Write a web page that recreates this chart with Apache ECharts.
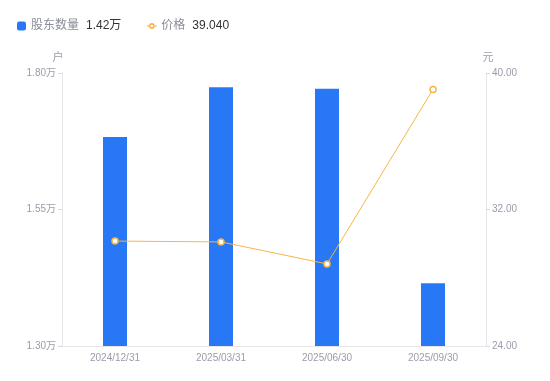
<!DOCTYPE html>
<html>
<head>
<meta charset="utf-8">
<script src="https://cdn.jsdelivr.net/npm/echarts@6/dist/echarts.min.js"></script>
<style>
  html, body { margin: 0; padding: 0; background: #fff; }
  #chart { width: 550px; height: 381px; }
</style>
</head>
<body>
<div id="chart"></div>
<script>
// 报告期
const dates = ['2024/12/31', '2025/03/31', '2025/06/30', '2025/09/30']
// 股东数量（户）
const holders = [16830, 17740, 17710, 14150]
// 价格（元）
const prices = [30.15, 30.10, 28.81, 39.04]
// 左右轴刻度
const holderTicks = [13000, 15500, 18000]
const priceTicks = [24, 32, 40]

const chart = echarts.init(document.getElementById('chart'))

const FONT = '"Liberation Sans", "Noto Sans CJK SC", sans-serif'
const fmtWan = v => (v / 10000).toFixed(2) + '万'
const lastHolder = holders[holders.length - 1]
const lastPrice = prices[prices.length - 1]

const axisText = { color: '#9a9caa', fontSize: 10, fontFamily: FONT }

// 图例：线 + 空心圆
const lineIcon = 'path://M0 3.8h2v1.4H0z M7 3.8H9v1.4H7z M4.5 1.6a2.9 2.9 0 1 0 0.001 0z M4.5 3.2a1.3 1.3 0 1 1 -0.001 0z'

const option = {
  animation: false,
  textStyle: { fontFamily: FONT },
  legend: {
    left: 12,
    top: 15,
    itemWidth: 9,
    itemHeight: 9,
    itemGap: 26,
    data: [
      { name: '股东数量', icon: 'roundRect' },
      { name: '价格', icon: lineIcon, itemStyle: { color: '#f7b547', borderWidth: 0 } }
    ],
    formatter: name => {
      const v = name === '股东数量' ? fmtWan(lastHolder) : lastPrice.toFixed(3)
      return `{n|${name}}{v|${v}}`
    },
    textStyle: {
      rich: {
        n: { color: '#8a8d99', fontSize: 12, fontFamily: FONT, padding: [0, 7, 0, 0] },
        v: { color: '#333', fontSize: 12, fontFamily: FONT }
      }
    }
  },
  grid: { left: 62, right: 64, top: 73, bottom: 35 },
  xAxis: {
    type: 'category',
    data: dates,
    axisLine: { lineStyle: { color: '#e6e6eb' } },
    axisTick: { show: false },
    axisLabel: { ...axisText, margin: 7 }
  },
  yAxis: [
    {
      type: 'value',
      name: '户',
      nameGap: 10,
      nameTextStyle: { ...axisText, fontSize: 11, padding: [0, 8, 0, 0] },
      min: holderTicks[0],
      max: holderTicks[holderTicks.length - 1],
      interval: holderTicks[1] - holderTicks[0],
      axisLine: { show: true, lineStyle: { color: '#e6e6eb' } },
      axisTick: { show: true, length: 4, lineStyle: { color: '#d8d8de' } },
      splitLine: { show: false },
      axisLabel: { ...axisText, margin: 6, formatter: fmtWan }
    },
    {
      type: 'value',
      name: '元',
      nameGap: 10,
      nameTextStyle: { ...axisText, fontSize: 11, padding: [0, 0, 0, 4] },
      min: priceTicks[0],
      max: priceTicks[priceTicks.length - 1],
      interval: priceTicks[1] - priceTicks[0],
      axisLine: { show: true, lineStyle: { color: '#e6e6eb' } },
      axisTick: { show: true, length: 4, lineStyle: { color: '#d8d8de' } },
      splitLine: { show: false },
      axisLabel: { ...axisText, margin: 6, formatter: v => v.toFixed(2) }
    }
  ],
  series: [
    {
      name: '股东数量',
      type: 'bar',
      yAxisIndex: 0,
      data: holders,
      barWidth: 24,
      itemStyle: { color: '#2878f5' }
    },
    {
      name: '价格',
      type: 'line',
      yAxisIndex: 1,
      data: prices,
      symbol: 'circle',
      symbolSize: 6,
      lineStyle: { color: '#f7b547', width: 1 },
      itemStyle: { color: '#fff', borderColor: '#f7b547', borderWidth: 1.5 }
    }
  ]
}

chart.setOption(option)
</script>
</body>
</html>
